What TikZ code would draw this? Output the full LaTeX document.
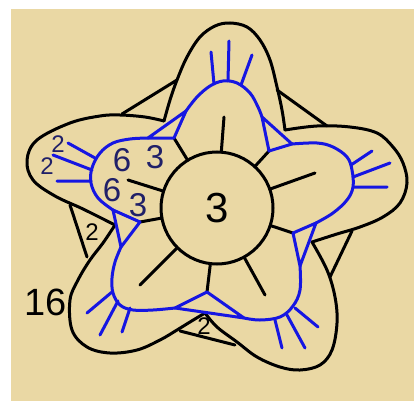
\documentclass[tikz,border=0pt]{standalone}
\usepackage{fontspec}
\setmainfont{Liberation Sans}
\definecolor{paper}{RGB}{234,216,164}
\definecolor{thread}{RGB}{22,22,226}
\definecolor{ink}{RGB}{32,32,104}

\begin{document}
\begin{tikzpicture}[x=1pt, y=-1pt,
    petal/.style={line width=3pt, line join=round, line cap=round},
    chain/.style={draw=thread, line width=3pt, line join=round, line cap=round},
    num/.style={inner sep=0pt, font=\fontsize{#1}{#1}\selectfont}]

    % paper
    \useasboundingbox (0,0) rectangle (414,401);
    \fill[white] (0,0) rectangle (414,401);
    \fill[paper] (11,9) rectangle (414,401);

    % centre ring
    \node[draw, circle, minimum size=112pt, inner sep=0pt, outer sep=0pt,
          line width=3pt, num=42] (ring) at (217,208) {3};

    % corners of the small blue triangles (a, b outside, c points to the ring)
    \coordinate (tla) at (148,138); \coordinate (tlb) at (186,111); \coordinate (tlc) at (174,138);
    \coordinate (tra) at (262,117); \coordinate (trb) at (292,144); \coordinate (trc) at (269,151);
    \coordinate (rta) at (316,223); \coordinate (rtb) at (300,266); \coordinate (rtc) at (293,233);
    \coordinate (bta) at (244,318); \coordinate (btb) at (175,308); \coordinate (btc) at (207,292);
    \coordinate (lta) at (121,247); \coordinate (ltb) at (113,210); \coordinate (ltc) at (140,222);

    % ends of the long spokes
    \coordinate (sTop) at (224,117);
    \coordinate (sRight) at (315,173);
    \coordinate (sLowR) at (265,295);
    \coordinate (sLowL) at (140,285);
    \coordinate (sLeft) at (128,180);

    % black petals, one after the other
    \draw[petal] plot[smooth, tension=0.6] coordinates {(164,121) (170,100) (177,80) (187,57) (200,37) (215,26) (230,23) (247,27) (260,40) (270,60) (277,87) (282,110) (285,130)};
    \draw[petal] plot[smooth, tension=0.6] coordinates {(285,130) (317,126) (350,127) (377,133) (393,147) (403,163) (407,183) (400,203) (383,217) (360,227) (337,234) (312,242)};
    \draw[petal] plot[smooth, tension=0.6] coordinates {(312,242) (327,270) (335,297) (337,323) (332,350) (320,365) (300,370) (280,367) (257,357) (237,342) (217,327) (205,313)};
    \draw[petal] plot[smooth, tension=0.6] coordinates {(205,313) (190,322) (177,330) (160,340) (137,350) (110,353) (87,347) (72,330) (70,300) (78,280) (90,260) (103,243) (115,225)};
    \draw[petal] plot[smooth, tension=0.6] coordinates {(115,225) (83,209) (55,196) (33,180) (27,160) (37,140) (70,123) (100,116) (120,115) (145,117) (164,121)};

    % chains between the petals
    \draw[petal] (122,114) -- (177,80);
    \draw[petal] (277,90) -- (327,126);
    \draw[petal] (352,231) -- (330,277);
    \draw[petal] (180,331) -- (235,345);
    \draw[petal] (70,205) -- (87,257);

    % spokes
    \foreach \s in {sTop,sRight,sLowR,sLowL,sLeft,tlc,trc,rtc,btc,ltc}
        \draw[petal] (ring) -- (\s);

    % blue triangles
    \foreach \t in {tl,tr,rt,bt,lt}
        \draw[chain] (\t a) -- (\t b) -- (\t c) -- cycle;

    % blue lobes
    \draw[chain] plot[smooth, tension=0.6] coordinates {(tlb) (197,97) (210,86) (223,81) (237,83) (250,93) (258,107) (tra)};
    \draw[chain] plot[smooth, tension=0.6] coordinates {(trb) (317,143) (333,147) (347,157) (352,170) (353,187) (347,200) (333,213) (rta)};
    \draw[chain] plot[smooth, tension=0.6] coordinates {(rtb) (300,290) (293,306) (280,317) (260,320) (bta)};
    \draw[chain] plot[smooth, tension=0.6] coordinates {(btb) (153,310) (133,310) (120,305) (113,293) (112,278) (115,262) (lta)};
    \draw[chain] plot[smooth, tension=0.6] coordinates {(ltb) (98,198) (91,183) (92,168) (100,153) (113,143) (130,139) (tla)};

    % picots
    \draw[chain] (214,84) -- (211,52) (228,81) -- (229,41) (241,85) -- (252,55);
    \draw[chain] (351,165) -- (372,151) (353,177) -- (390,163) (353,187) -- (387,187);
    \draw[chain] (295,308) -- (318,327) (287,315) -- (305,348) (275,320) -- (282,348);
    \draw[chain] (112,292) -- (87,313) (118,301) -- (100,335) (130,308) -- (122,332);
    \draw[chain] (95,158) -- (68,143) (92,170) -- (53,155) (91,181) -- (57,181);

    % counts
    \node[num=24, text=ink] (pa) at (58,144) {2};
    \node[num=24, text=ink] (pb) at (47,166) {2};
    \node[num=33, text=ink] (da) at (122,160) {6};
    \node[num=33, text=ink] (db) at (155,157) {3};
    \node[num=33, text=ink] (dc) at (112,190) {6};
    \node[num=33, text=ink] (dd) at (138,205) {3};
    \node[num=24] (ca) at (92,232) {2};
    \node[num=24] (cb) at (204,326) {2};
    \node[num=38] (big) at (46,302) {16};

\end{tikzpicture}
\end{document}
